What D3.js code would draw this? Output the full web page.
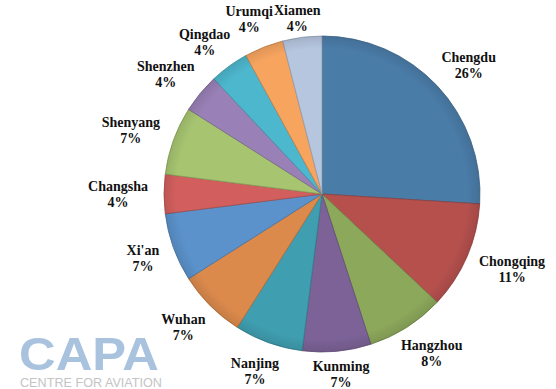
<!DOCTYPE html>
<html>
<head>
<meta charset="utf-8">
<title></title>
<style>
  body { margin: 0; background: #fff; }
  svg { display: block; }
  .lbl { font-family: "Liberation Serif", "DejaVu Serif", "Times New Roman", Times, serif; font-weight: bold; font-size: 14px; fill: #111; }
</style>
</head>
<body>
<script src="https://cdnjs.cloudflare.com/ajax/libs/d3/7.8.5/d3.min.js"></script>
<script>
var W = 556, H = 389;

// data, clockwise from 12 o'clock
var cities = ["Chengdu", "Chongqing", "Hangzhou", "Kunming", "Nanjing", "Wuhan", "Xi'an",
              "Changsha", "Shenyang", "Shenzhen", "Qingdao", "Urumqi", "Xiamen"];
var shares = [26, 11, 8, 7, 7, 7, 7, 4, 7, 4, 4, 4, 4];
var colours = ["#4a7ca8", "#b5504d", "#8ca85b", "#7c6297", "#3f9eb0", "#dc8a4c", "#5b92cb",
               "#d25f5d", "#a7c571", "#9980b6", "#4db7cd", "#f7a45f", "#b6c6df"];

var cx = 322, cy = 194, r = 158;

var svg = d3.select("body").append("svg")
    .attr("width", W)
    .attr("height", H);

var data = cities.map(function(c, i) { return { city: c, value: shares[i], colour: colours[i] }; });

var pie = d3.pie()
    .sort(null)
    .value(function(d) { return d.value; });

var arc = d3.arc().innerRadius(0).outerRadius(r);

var arcs = pie(data);

// CAPA watermark (behind everything)
svg.append("text")
    .attr("x", 19).attr("y", 370)
    .attr("font-family", "'Liberation Sans', Arial, sans-serif")
    .attr("font-weight", "bold")
    .attr("font-size", "46px")
    .attr("textLength", 140)
    .attr("lengthAdjust", "spacingAndGlyphs")
    .attr("fill", "#a9c3df")
    .text("CAPA");

svg.append("text")
    .attr("x", 20).attr("y", 387)
    .attr("font-family", "'Liberation Sans', Arial, sans-serif")
    .attr("font-size", "13px")
    .attr("textLength", 142)
    .attr("lengthAdjust", "spacingAndGlyphs")
    .attr("fill", "#c4c4c4")
    .text("CENTRE FOR AVIATION");

var g = svg.append("g").attr("transform", "translate(" + cx + "," + cy + ")");

g.selectAll("path.slice")
    .data(arcs)
    .enter()
    .append("path")
    .attr("class", "slice")
    .attr("d", arc)
    .attr("fill", function(d) { return d.data.colour; })
    .attr("stroke", function(d) { return d3.color(d.data.colour).darker(0.7); })
    .attr("stroke-width", 0.8);

// soft shading round the rim
var defs = svg.append("defs");
var rg = defs.append("radialGradient").attr("id", "rim");
rg.append("stop").attr("offset", "0.92").attr("stop-color", "#000").attr("stop-opacity", 0);
rg.append("stop").attr("offset", "1").attr("stop-color", "#000").attr("stop-opacity", 0.1);
g.append("circle").attr("r", r).attr("fill", "url(#rim)");

// labels: box edge nearest the pie sits just outside the rim
var lh = 16;
arcs.forEach(function(d) {
    var a = (d.startAngle + d.endAngle) / 2;
    var lbl = svg.append("g");
    var t1 = lbl.append("text").attr("class", "lbl").text(d.data.city)
        .attr("text-anchor", "middle");
    var t2 = lbl.append("text").attr("class", "lbl").text(d.data.value + "%")
        .attr("text-anchor", "middle");
    var w = Math.max(t1.node().getComputedTextLength(), t2.node().getComputedTextLength());
    var h = lh * 2;
    var px = cx + Math.sin(a) * (r + 16);
    var py = cy - Math.cos(a) * (r + 14);
    var x = px + Math.sin(a) * w / 2;
    var y = py - Math.cos(a) * h / 2;
    y = Math.max(h / 2 + 2, Math.min(H - h / 2 + 1, y));
    t1.attr("x", x).attr("y", y - 3);
    t2.attr("x", x).attr("y", y + lh - 3);
});
</script>
</body>
</html>
